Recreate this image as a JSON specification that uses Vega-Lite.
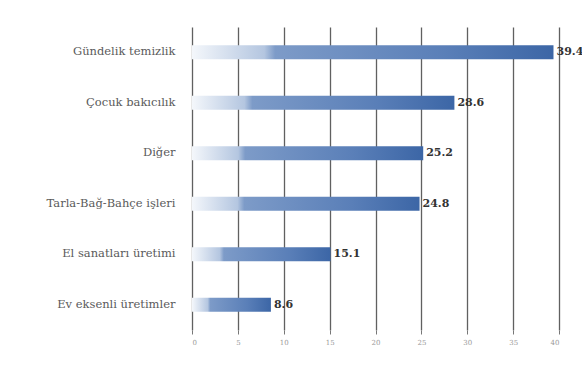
{
  "$schema": "https://vega.github.io/schema/vega-lite/v6.json",
  "autosize": "none",
  "width": 367,
  "height": 303,
  "padding": {"left": 192, "top": 27, "right": 23, "bottom": 43},
  "background": "white",
  "data": {"values": [
    {"category": "Gündelik temizlik", "value": 39.4},
    {"category": "Çocuk bakıcılık", "value": 28.6},
    {"category": "Diğer", "value": 25.2},
    {"category": "Tarla-Bağ-Bahçe işleri", "value": 24.8},
    {"category": "El sanatları üretimi", "value": 15.1},
    {"category": "Ev eksenli üretimler", "value": 8.6}
  ]},
  "encoding": {
    "y": {"field": "category", "type": "nominal", "sort": null, "title": null,
      "axis": {"domain": false, "ticks": false, "labelPadding": 17, "labelFont": "DejaVu Serif", "labelFontSize": 11.5, "labelColor": "#5a5a5a"}},
    "x": {"field": "value", "type": "quantitative", "title": null,
      "scale": {"domain": [0, 40], "nice": false},
      "axis": {"values": [0,5,10,15,20,25,30,35,40], "grid": true, "gridColor": "#444444", "gridWidth": 1.3, "gridOpacity": 0.85, "domain": false, "tickSize": 4, "tickColor": "#777777", "labelFont": "DejaVu Serif", "labelFontSize": 7, "labelColor": "#999999", "labelPadding": 4}}
  },
  "layer": [
    {"mark": {"type": "bar", "size": 14, "color": {"gradient": "linear", "x1": 0, "y1": 0, "x2": 1, "y2": 0,
      "stops": [
        {"offset": 0, "color": "#f4f7fb"},
        {"offset": 0.2, "color": "#b4c6e0"},
        {"offset": 0.23, "color": "#7d9bc8"},
        {"offset": 0.7, "color": "#5a7fb8"},
        {"offset": 1, "color": "#3c66a6"}]}}},
    {"mark": {"type": "text", "align": "left", "dx": 3, "font": "DejaVu Serif", "fontSize": 11, "fontWeight": "bold", "color": "#333333"},
     "encoding": {"text": {"field": "value", "type": "quantitative", "format": ".1f"}}}
  ],
  "config": {"view": {"stroke": null}}
}
